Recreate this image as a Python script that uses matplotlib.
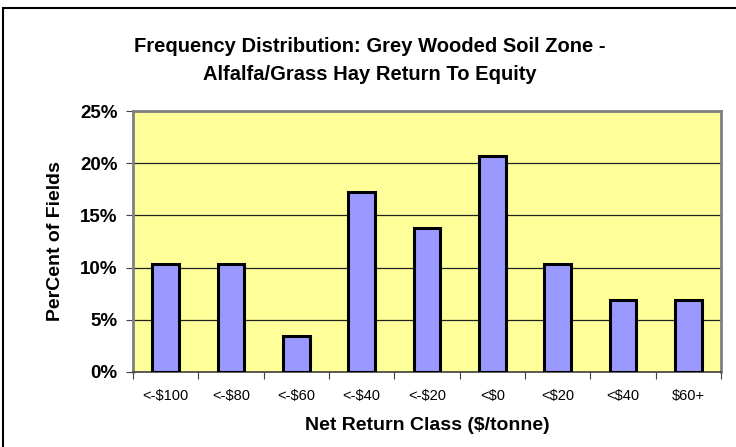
import matplotlib
matplotlib.use('Agg')
import matplotlib.pyplot as plt
from matplotlib.patches import Rectangle
from matplotlib.ticker import FuncFormatter

plt.rcParams['font.family'] = ['Liberation Sans', 'DejaVu Sans']

classes = ['<-$100', '<-$80', '<-$60', '<-$40', '<-$20', '<$0', '<$20', '<$40', '$60+']
pct = [10.34, 10.34, 3.45, 17.24, 13.79, 20.69, 10.34, 6.90, 6.90]

W, H = 736, 447
fig = plt.figure(figsize=(W / 100, H / 100), dpi=100)
# outer chart border (bottom and right are cut off in the original)
fig.patches.append(Rectangle((3 / W, 1 - 455 / H), 745 / W, 447 / H, transform=fig.transFigure,
                             fill=False, edgecolor='black', linewidth=1.5))

ax = fig.add_axes([133 / W, 1 - 372 / H, 588 / W, 261 / H])
ax.set_facecolor('#FFFF99')
x = range(len(classes))
ax.bar(x, pct, width=0.41, color='#9999FF', edgecolor='black', linewidth=2.2, zorder=3)
ax.set_xlim(-0.5, len(classes) - 0.5)
ax.set_ylim(0, 25)
ax.set_yticks([0, 5, 10, 15, 20, 25])
ax.yaxis.set_major_formatter(FuncFormatter(lambda v, p: '%d%%' % v))
ax.grid(axis='y', color='#202020', linewidth=0.9, zorder=1)
ax.set_xticks([i + 0.5 for i in range(-1, len(classes))])
ax.set_xticklabels([])
ax.set_xticks(list(x), minor=True)
ax.set_xticklabels(classes, minor=True, fontsize=10.5)
ax.tick_params(axis='x', which='minor', length=0, pad=12)
ax.tick_params(axis='x', which='major', length=5, direction='out', color='#404040')
ax.tick_params(axis='y', length=5, direction='out', labelsize=13.5, pad=6, color='#404040')
for lab in ax.get_yticklabels():
    lab.set_fontweight('bold')
for s in ['top', 'right', 'left']:
    ax.spines[s].set_color('#808080')
    ax.spines[s].set_linewidth(2)
ax.spines['bottom'].set_color('#404040')
ax.spines['bottom'].set_linewidth(1.2)

ax.set_xlabel('Net Return Class ($/tonne)', fontsize=14, fontweight='bold', labelpad=10)
ax.set_ylabel('PerCent of Fields', fontsize=14, fontweight='bold', labelpad=12)
fig.text(370 / W, 1 - 52 / H, 'Frequency Distribution: Grey Wooded Soil Zone -',
         ha='center', va='baseline', fontsize=14.5, fontweight='bold')
fig.text(370 / W, 1 - 80 / H, 'Alfalfa/Grass Hay Return To Equity',
         ha='center', va='baseline', fontsize=14.5, fontweight='bold')

fig.savefig('out.png', dpi=100)
